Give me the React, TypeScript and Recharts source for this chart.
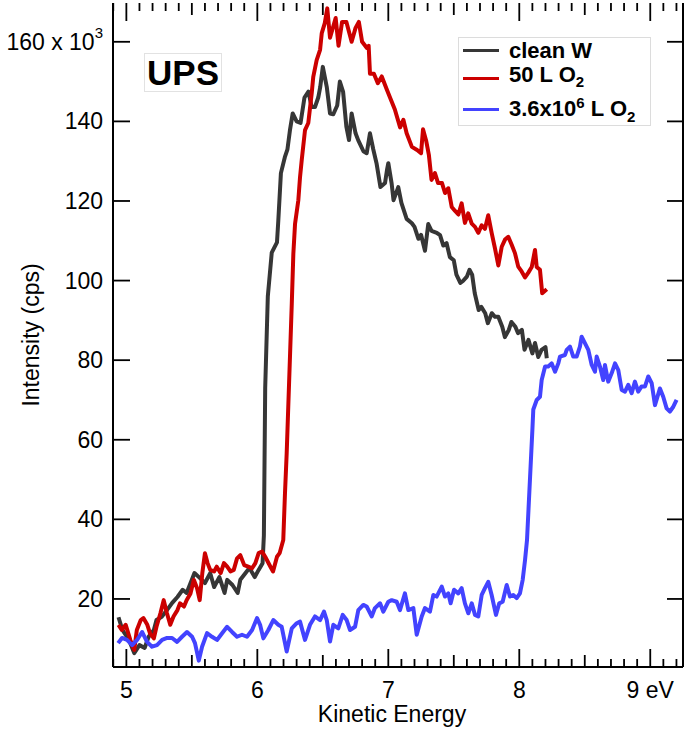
import React from "react";
import { LineChart, Line, XAxis, YAxis, Legend, Label } from "recharts";

// clean W
const cleanE = [4.94, 4.97, 5.02, 5.06, 5.1, 5.14, 5.17, 5.21, 5.23, 5.27, 5.31, 5.35, 5.39, 5.43, 5.46, 5.5, 5.52, 5.56, 5.6, 5.64, 5.67, 5.71, 5.75, 5.77, 5.81, 5.85, 5.87, 5.91, 5.94, 5.98, 6.01, 6.04, 6.05, 6.06, 6.08, 6.11, 6.15, 6.16, 6.18, 6.21, 6.23, 6.25, 6.27, 6.3, 6.33, 6.36, 6.39, 6.415, 6.44, 6.465, 6.48, 6.5, 6.53, 6.555, 6.58, 6.61, 6.63, 6.655, 6.68, 6.7, 6.72, 6.75, 6.77, 6.81, 6.835, 6.86, 6.885, 6.91, 6.94, 6.975, 6.99, 7.0, 7.025, 7.04, 7.076, 7.1, 7.14, 7.18, 7.2, 7.23, 7.25, 7.28, 7.305, 7.33, 7.37, 7.395, 7.42, 7.445, 7.47, 7.5, 7.52, 7.55, 7.57, 7.6, 7.62, 7.64, 7.66, 7.69, 7.71, 7.74, 7.76, 7.79, 7.815, 7.84, 7.87, 7.89, 7.92, 7.94, 7.97, 7.99, 8.02, 8.04, 8.07, 8.1, 8.12, 8.145, 8.17, 8.2, 8.21];
const cleanV = [15.4, 12.2, 9.7, 6.4, 8.4, 7.7, 10.5, 12.2, 14.7, 15.5, 17.2, 19.0, 20.5, 22.3, 21.5, 24.8, 26.5, 25.3, 24.0, 26.5, 23.0, 25.5, 21.5, 24.8, 23.5, 21.5, 24.8, 26.5, 27.8, 25.5, 27.3, 29.0, 36, 73, 96, 107, 109.6, 115, 127, 131, 133, 138, 142, 140, 139.6, 146, 147.5, 143.6, 143.6, 146, 148.6, 153.7, 148.7, 142, 141.8, 144, 150, 147.4, 138.6, 135.3, 142, 137, 135.3, 132.5, 132, 137, 133, 129.5, 123.5, 124.5, 127.8, 129.5, 124.5, 120.2, 123.5, 119.5, 115.5, 114.4, 113.5, 110.5, 111.5, 107.5, 114.2, 112.5, 112, 111.4, 108.8, 109.4, 105.9, 105.1, 101.5, 99.4, 99.9, 101, 102.7, 101.5, 96.8, 92.6, 93.4, 91.8, 89.3, 91.8, 90.9, 90.9, 88.4, 85.8, 87.6, 89.6, 88.4, 86.8, 87.6, 82.6, 85.1, 81.7, 84.3, 80.8, 82.6, 83.3, 80.5];

// 50 L O2
const lowE = [4.94, 4.965, 4.995, 5.03, 5.06, 5.08, 5.11, 5.13, 5.16, 5.18, 5.21, 5.23, 5.26, 5.285, 5.31, 5.335, 5.36, 5.39, 5.41, 5.44, 5.46, 5.49, 5.515, 5.54, 5.56, 5.58, 5.6, 5.62, 5.64, 5.67, 5.69, 5.72, 5.745, 5.77, 5.795, 5.82, 5.845, 5.87, 5.9, 5.93, 5.96, 5.985, 6.01, 6.036, 6.06, 6.1, 6.12, 6.15, 6.17, 6.198, 6.211, 6.224, 6.237, 6.25, 6.263, 6.275, 6.288, 6.313, 6.326, 6.339, 6.364, 6.389, 6.415, 6.427, 6.453, 6.479, 6.492, 6.515, 6.534, 6.555, 6.598, 6.62, 6.647, 6.68, 6.72, 6.75, 6.775, 6.8, 6.835, 6.85, 6.86, 6.89, 6.92, 6.95, 6.99, 7.013, 7.05, 7.09, 7.115, 7.14, 7.18, 7.22, 7.25, 7.265, 7.29, 7.31, 7.33, 7.356, 7.38, 7.41, 7.433, 7.458, 7.484, 7.51, 7.535, 7.56, 7.585, 7.61, 7.637, 7.662, 7.687, 7.713, 7.738, 7.763, 7.789, 7.815, 7.84, 7.866, 7.891, 7.916, 7.942, 7.967, 7.992, 8.018, 8.044, 8.069, 8.095, 8.12, 8.133, 8.158, 8.175, 8.21];
const lowV = [13.5, 12.2, 13.5, 9.7, 7.2, 12.2, 14.7, 15.2, 13.5, 11.4, 10.1, 13, 16.4, 19.7, 16.4, 13.5, 15.6, 17.2, 18.9, 18.1, 19.7, 21.4, 24.8, 22.7, 19.7, 26.5, 31.5, 29, 27.3, 26.9, 28.1, 26.5, 29, 28.1, 26.9, 27.3, 30.2, 31, 28.5, 28.1, 27.7, 29, 31.5, 31.9, 30.6, 28.1, 26.9, 30.6, 31.5, 34.8, 46.5, 56.5, 69.1, 81.6, 94.2, 106.8, 114.3, 120.2, 126, 130.3, 137.8, 139.6, 147, 151.2, 155.4, 158, 162.2, 164.7, 168.4, 161, 166, 159, 165, 165, 160, 163.5, 165, 160, 158.5, 159, 152, 152, 149.6, 151.3, 147.9, 146, 143, 138.5, 140.4, 137, 133.6, 132.8, 132, 138, 135, 131.5, 125.3, 127, 124.5, 124.5, 122, 123.2, 118.5, 117.5, 116.6, 119.4, 114.5, 116.9, 114.3, 113.5, 112, 113.9, 113, 116.4, 112, 108, 103.8, 108.5, 110.3, 111, 109, 106.9, 103.5, 102.3, 100.8, 102, 103.4, 107.7, 103.4, 102.7, 96.8, 97.8];

// 3.6x10^6 L O2
const highE = [4.937, 4.967, 5.005, 5.044, 5.082, 5.12, 5.158, 5.196, 5.234, 5.273, 5.311, 5.349, 5.387, 5.425, 5.463, 5.502, 5.524, 5.553, 5.578, 5.616, 5.654, 5.692, 5.731, 5.769, 5.807, 5.845, 5.883, 5.921, 5.96, 5.998, 6.021, 6.046, 6.084, 6.122, 6.16, 6.186, 6.224, 6.263, 6.301, 6.326, 6.364, 6.402, 6.44, 6.479, 6.509, 6.53, 6.555, 6.58, 6.618, 6.652, 6.682, 6.708, 6.746, 6.771, 6.809, 6.835, 6.873, 6.898, 6.937, 6.962, 7.0, 7.026, 7.064, 7.089, 7.127, 7.153, 7.191, 7.217, 7.255, 7.28, 7.318, 7.344, 7.369, 7.408, 7.433, 7.458, 7.476, 7.502, 7.534, 7.56, 7.585, 7.611, 7.637, 7.662, 7.687, 7.713, 7.738, 7.763, 7.789, 7.822, 7.847, 7.873, 7.904, 7.929, 7.954, 7.98, 8.005, 8.026, 8.044, 8.059, 8.1, 8.107, 8.133, 8.158, 8.171, 8.197, 8.221, 8.247, 8.273, 8.298, 8.311, 8.349, 8.362, 8.387, 8.412, 8.438, 8.463, 8.476, 8.502, 8.527, 8.553, 8.578, 8.591, 8.616, 8.641, 8.654, 8.679, 8.705, 8.731, 8.756, 8.782, 8.807, 8.832, 8.858, 8.883, 8.908, 8.934, 8.96, 8.985, 9.011, 9.036, 9.074, 9.099, 9.125, 9.15, 9.176, 9.201];
const highV = [8.9, 10.2, 9.7, 8.4, 9.7, 11.7, 9.2, 8, 8.4, 9.7, 10.2, 10.2, 9.2, 10.5, 11.7, 10.5, 8.9, 4.5, 8, 11.4, 10.5, 9.7, 11.4, 13, 11.7, 10.5, 11, 10.5, 12.2, 15.2, 13.5, 10.1, 12.2, 14.7, 13.5, 13, 6.8, 12.6, 13.9, 14.3, 9.7, 13.5, 15.6, 14.7, 16.8, 14.7, 9.3, 13.5, 12.6, 16, 14.7, 12.2, 13, 17.2, 18.5, 18.1, 15.6, 17.7, 18.9, 16.8, 19.3, 19.7, 19.3, 17.2, 21.4, 17.2, 17.7, 11, 15.6, 17.7, 16.8, 21, 20.6, 23.1, 20.6, 21.4, 18.9, 22.3, 21.4, 22.7, 18.9, 16.4, 18.9, 16, 15.6, 21, 22.7, 24.3, 21, 16, 18.9, 19.3, 23.5, 20.6, 21, 20.2, 21.4, 24.8, 29.8, 34.8, 62.5, 67.6, 70, 70.8, 75, 78.4, 78.4, 79.2, 77.1, 79.2, 80.9, 81.3, 82.6, 83.4, 80.9, 80.9, 83.4, 85.9, 84.2, 82.6, 78.8, 77.1, 80.9, 78.4, 75, 78.8, 74.6, 76.7, 79.2, 77.5, 72.5, 72.1, 73.8, 71.7, 74.6, 72.1, 73.4, 73.4, 75.9, 74.2, 68.7, 72.9, 70.8, 67.9, 67.1, 68.3, 70];

const xMajorTicks = [5, 6, 7, 8, 9];
const xMajorLabels = ["5", "6", "7", "8", "9 eV"];
const yTicks = [20, 40, 60, 80, 100, 120, 140, 160];
const xDomain: [number, number] = [4.898, 9.25];
const yDomain: [number, number] = [2.9, 169.75];

// every 0.1 eV across the frame
const xAllTicks = Array.from({ length: 44 }, (_, i) => Math.round((4.9 + i * 0.1) * 10) / 10);

const COLORS = { clean: "#363636", low: "#cc0000", high: "#4343ff" };
const FONT = "'Liberation Sans', Arial, Helvetica, sans-serif";

// plot box that the margins + axis sizes below give
const PLOT = { left: 113, top: 3, width: 570, height: 664 };
const sx = (v: number) => PLOT.left + ((v - xDomain[0]) / (xDomain[1] - xDomain[0])) * PLOT.width;
const sy = (v: number) => PLOT.top + ((yDomain[1] - v) / (yDomain[1] - yDomain[0])) * PLOT.height;

const toPoints = (e: number[], v: number[]) => e.map((x, i) => ({ e: x, v: v[i] }));
const cleanData = toPoints(cleanE, cleanV);
const lowData = toPoints(lowE, lowV);
const highData = toPoints(highE, highV);

const isMajor = (v: number) => xMajorTicks.some((t) => Math.abs(t - v) < 1e-6);
function tickLen(v: number) {
  if (isMajor(v)) return 18;
  if (Math.abs(v * 2 - Math.round(v * 2)) < 1e-6) return 12;
  return 8;
}

const BottomTick = (props: any) => {
  const x = Number(props.x);
  const y = Number(props.y);
  const v = props.payload.value;
  const idx = xMajorTicks.findIndex((t) => Math.abs(t - v) < 1e-6);
  if (idx < 0) return <g />;
  return (
    <text x={x} y={y + 31} textAnchor="middle" fontSize={23} fontFamily={FONT} fill="#000">
      {xMajorLabels[idx]}
    </text>
  );
};

const LeftTick = (props: any) => {
  const x = Number(props.x);
  const y = Number(props.y);
  const v = props.payload.value;
  return (
    <text x={x - 10} y={y + 8} textAnchor="end" fontSize={23} fontFamily={FONT} fill="#000">
      {v === 160 ? (
        <>
          160 x 10
          <tspan dy={-12} fontSize={15}>3</tspan>
        </>
      ) : (
        String(v)
      )}
    </text>
  );
};

// inward tick marks on all four sides, drawn above the chart
const TickMarks = () => {
  const bottom = PLOT.top + PLOT.height;
  const right = PLOT.left + PLOT.width;
  const s = { stroke: "#000", strokeWidth: 1.8 };
  return (
    <svg width={685} height={731} style={{ position: "absolute", left: 0, top: 0, pointerEvents: "none" }}>
      {xAllTicks.map((v) => (
        <g key={`x${v}`}>
          <line x1={sx(v)} x2={sx(v)} y1={bottom} y2={bottom - tickLen(v)} {...s} />
          <line x1={sx(v)} x2={sx(v)} y1={PLOT.top} y2={PLOT.top + tickLen(v)} {...s} />
        </g>
      ))}
      {yTicks.map((v) => (
        <g key={`y${v}`}>
          <line x1={PLOT.left} x2={PLOT.left + 17} y1={sy(v)} y2={sy(v)} {...s} />
          <line x1={right} x2={right - 16} y1={sy(v)} y2={sy(v)} {...s} />
        </g>
      ))}
    </svg>
  );
};

const legendRows = [
  { color: COLORS.clean, label: <>clean W</> },
  { color: COLORS.low, label: <>50 L O<sub style={{ fontSize: 15 }}>2</sub></> },
  {
    color: COLORS.high,
    label: (
      <>
        3.6x10<sup style={{ fontSize: 15 }}>6</sup> L O<sub style={{ fontSize: 15 }}>2</sub>
      </>
    ),
  },
];

const renderLegend = () => (
  <div
    style={{
      border: "1px solid #dcdcdc",
      background: "#fff",
      width: 191,
      height: 87,
      boxSizing: "content-box",
      fontFamily: FONT,
      fontWeight: "bold",
      fontSize: 22,
    }}
  >
    {legendRows.map((r, i) => (
      <div key={i} style={{ display: "flex", alignItems: "center", height: i === 0 ? 25 : 31 }}>
        <div style={{ width: 36, height: 3, background: r.color, marginLeft: 4, marginRight: 10 }} />
        <span style={{ whiteSpace: "nowrap", lineHeight: "22px" }}>{r.label}</span>
      </div>
    ))}
  </div>
);

export default function App() {
  return (
    <div style={{ position: "absolute", left: 0, top: 0, width: 685, height: 731 }}>
      <LineChart width={685} height={731} margin={{ top: PLOT.top, right: 0, left: 0, bottom: 0 }}>
        <XAxis
          dataKey="e"
          type="number"
          domain={xDomain}
          ticks={xAllTicks}
          interval={0}
          height={64}
          tickSize={0}
          tickMargin={0}
          tickLine={false}
          stroke="#000"
          strokeWidth={2}
          tick={<BottomTick />}
        >
          <Label
            content={(p: any) => {
              const vb = p.viewBox;
              return (
                <text x={vb.x + vb.width / 2 - 6} y={vb.y + 55} textAnchor="middle" fontSize={23} fontFamily={FONT} fill="#000">
                  Kinetic Energy
                </text>
              );
            }}
          />
        </XAxis>
        <XAxis
          xAxisId="top"
          orientation="top"
          dataKey="e"
          type="number"
          domain={xDomain}
          ticks={xAllTicks}
          height={0}
          tick={false}
          tickLine={false}
          stroke="#000"
          strokeWidth={2}
        />
        <YAxis
          type="number"
          domain={yDomain}
          ticks={yTicks}
          interval={0}
          width={PLOT.left}
          tickSize={0}
          tickMargin={0}
          tickLine={false}
          stroke="#000"
          strokeWidth={2}
          tick={<LeftTick />}
        >
          <Label
            content={(p: any) => {
              const vb = p.viewBox;
              const cx = 39;
              const cy = vb.y + vb.height / 2;
              return (
                <text x={cx} y={cy} transform={`rotate(-90 ${cx} ${cy})`} textAnchor="middle" fontSize={23} fontFamily={FONT} fill="#000">
                  Intensity (cps)
                </text>
              );
            }}
          />
        </YAxis>
        <YAxis
          yAxisId="right"
          orientation="right"
          type="number"
          domain={yDomain}
          ticks={yTicks}
          width={2}
          tick={false}
          tickLine={false}
          stroke="#000"
          strokeWidth={2}
        />
        <Legend
          layout="vertical"
          align="center"
          verticalAlign="middle"
          content={renderLegend}
          wrapperStyle={{ left: 458, top: 37, width: 193, height: 89 }}
        />
        <Line data={cleanData} dataKey="v" name="clean W" stroke={COLORS.clean} strokeWidth={4} dot={false} strokeLinejoin="round" isAnimationActive={false} />
        <Line data={lowData} dataKey="v" name="50 L O2" stroke={COLORS.low} strokeWidth={4} dot={false} strokeLinejoin="round" isAnimationActive={false} />
        <Line data={highData} dataKey="v" name="3.6x10^6 L O2" stroke={COLORS.high} strokeWidth={4} dot={false} strokeLinejoin="round" isAnimationActive={false} />
      </LineChart>
      <TickMarks />
      <div
        style={{
          position: "absolute",
          left: 144,
          top: 53,
          width: 76,
          height: 37,
          border: "1px solid #e2e2e2",
          background: "#fff",
          fontFamily: FONT,
          fontWeight: "bold",
          fontSize: 35,
          lineHeight: "37px",
          textAlign: "center",
        }}
      >
        UPS
      </div>
    </div>
  );
}
